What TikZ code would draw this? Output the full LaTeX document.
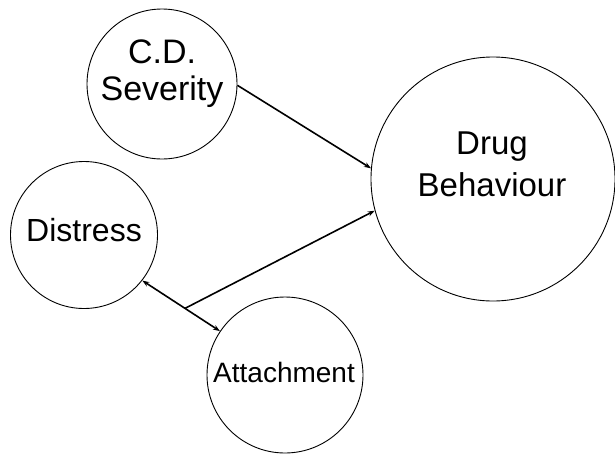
\documentclass[tikz,border=0pt]{standalone}
\usepackage{fontspec}
\setmainfont{Liberation Sans}
\usetikzlibrary{arrows.meta}

\begin{document}
\begin{tikzpicture}[x=1pt, y=-1pt, >={Stealth[length=7pt,width=5pt]},
  every node/.style={inner sep=0pt},
  var/.style={draw, circle, line width=0.9pt},
  link/.style={->, line width=1.6pt}]
  \useasboundingbox (0,0) rectangle (615,453);

  % Variables
  \foreach \name/\x/\y/\d in {sev/162/84/150, dis/84/235/147, att/285/375/156, drug/493/179/244} {
    \node[var, minimum size=\d pt] (\name) at (\x,\y) {};
  }

  % Labels
  \node[align=center, font=\fontsize{34}{37}\selectfont] (sevlbl) at (162,74) {C.D.\\Severity};
  \node[font=\fontsize{32}{38}\selectfont] (dislbl) at (84,230) {Distress};
  \node[font=\fontsize{28}{32}\selectfont] (attlbl) at (284,372) {Attachment};
  \node[align=center, font=\fontsize{33}{42}\selectfont] (druglbl) at (492,164) {Drug\\Behaviour};

  % Paths
  \draw[link] (sev.-1) -- (drug.175);
  \draw[link, <->] (dis.-38) -- coordinate[pos=0.55] (mid) (att.146);
  \draw[link] (mid) -- (drug.195);
\end{tikzpicture}
\end{document}
